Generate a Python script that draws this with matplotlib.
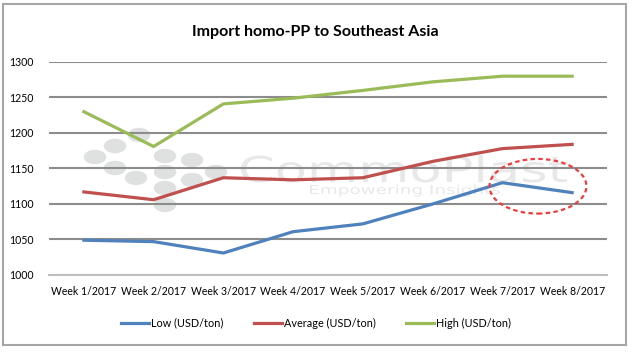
import matplotlib
matplotlib.use("Agg")
import matplotlib.pyplot as plt
from matplotlib.patches import Ellipse, Rectangle, PathPatch
from matplotlib.textpath import TextPath
from matplotlib.font_manager import FontProperties
from matplotlib.transforms import Affine2D

weeks = ["Week 1/2017", "Week 2/2017", "Week 3/2017", "Week 4/2017",
         "Week 5/2017", "Week 6/2017", "Week 7/2017", "Week 8/2017"]
low = [1049, 1047, 1031, 1061, 1072, 1100, 1130, 1116]
average = [1117, 1106, 1137, 1134, 1137, 1160, 1178, 1184]
high = [1230, 1181, 1241, 1249, 1260, 1272, 1280, 1280]
y_ticks = [1000, 1050, 1100, 1150, 1200, 1250, 1300]

plt.rcParams["font.family"] = ["Lato", "DejaVu Sans"]

W, H = 632, 352
fig = plt.figure(figsize=(W / 100, H / 100), dpi=100)


def fx(px):
    return px / W


def fy(py):
    return 1 - py / H


def stretched_text(s, left, base, cap_px, width_px, color):
    # watermark text squeezed/stretched to the width seen in the picture
    tp = TextPath((0, 0), s, size=cap_px / 0.73,
                  prop=FontProperties(family="DejaVu Sans"))
    ext = tp.get_extents()
    sx = width_px / ext.width
    tr = Affine2D().translate(-ext.x0, 0).scale(sx / W, 1 / H) \
        .translate(fx(left), fy(base)) + fig.transFigure
    fig.patches.append(PathPatch(tp, transform=tr, color=color, lw=0, zorder=0))


# outer chart frame
fig.patches.append(Rectangle((fx(3), fy(345)), fx(623), fy(4) - fy(345),
                             transform=fig.transFigure, fill=False,
                             edgecolor="#a6a6a6", lw=1.5))

ax = fig.add_axes([fx(49), fy(275), fx(607) - fx(49), fy(62) - fy(275)])
ax.set_zorder(2)

# faint watermark
for cx, cy in [(95, 157), (115, 146), (139, 135), (115, 168), (136, 178),
               (165, 156), (165, 172), (165, 188), (165, 205), (192, 160),
               (192, 180), (216, 172)]:
    fig.patches.append(Ellipse((fx(cx), fy(cy)), fx(21), 1 - fy(13),
                               transform=fig.transFigure, color="#dfe1e1",
                               zorder=0))
stretched_text("CommoPlast", 241, 182, 26, 326, "#e8e8e8")
stretched_text("Empowering Insights", 310, 194, 9, 190, "#e8e8e8")

x = list(range(len(weeks)))
ax.plot(x, low, color="#4f81bd", lw=2.3, label="Low (USD/ton)", zorder=3)
ax.plot(x, average, color="#c0504d", lw=2.3, label="Average (USD/ton)", zorder=3)
ax.plot(x, high, color="#9bbb59", lw=2.3, label="High (USD/ton)", zorder=3)

ax.set_xlim(-0.5, len(weeks) - 0.5)
ax.set_ylim(1000, 1300)
ax.set_yticks(y_ticks)
ax.set_xticks(x)
ax.set_xticklabels(weeks)
ax.tick_params(length=0, labelsize=7.6, colors="black")
ax.tick_params(axis="y", pad=11)
ax.tick_params(axis="x", pad=8)
ax.grid(axis="y", color="#8c8c8c", lw=1.5)
ax.set_axisbelow(True)
ax.set_facecolor("none")
for s in ["left", "right", "top"]:
    ax.spines[s].set_visible(False)
ax.spines["bottom"].set_color("#bfbfbf")
ax.spines["bottom"].set_linewidth(1.5)

# red dashed circle highlighting the last weeks
ax.add_patch(Ellipse((6.51, 1125), 1.39, 77, fill=False, edgecolor="#f03c3c",
                     lw=1.6, ls=(0, (2, 1.5)), zorder=4))

fig.text(fx(315), fy(32), "Import homo-PP to Southeast Asia", fontsize=11.5,
         fontweight="bold", ha="center", va="center")

ax.legend(loc="center", ncol=3, frameon=False, fontsize=7.8,
          handlelength=2.6, handletextpad=0.2, columnspacing=2.8,
          bbox_to_anchor=(0.5, fy(323)), bbox_transform=fig.transFigure)

fig.savefig("out.png", dpi=100)
